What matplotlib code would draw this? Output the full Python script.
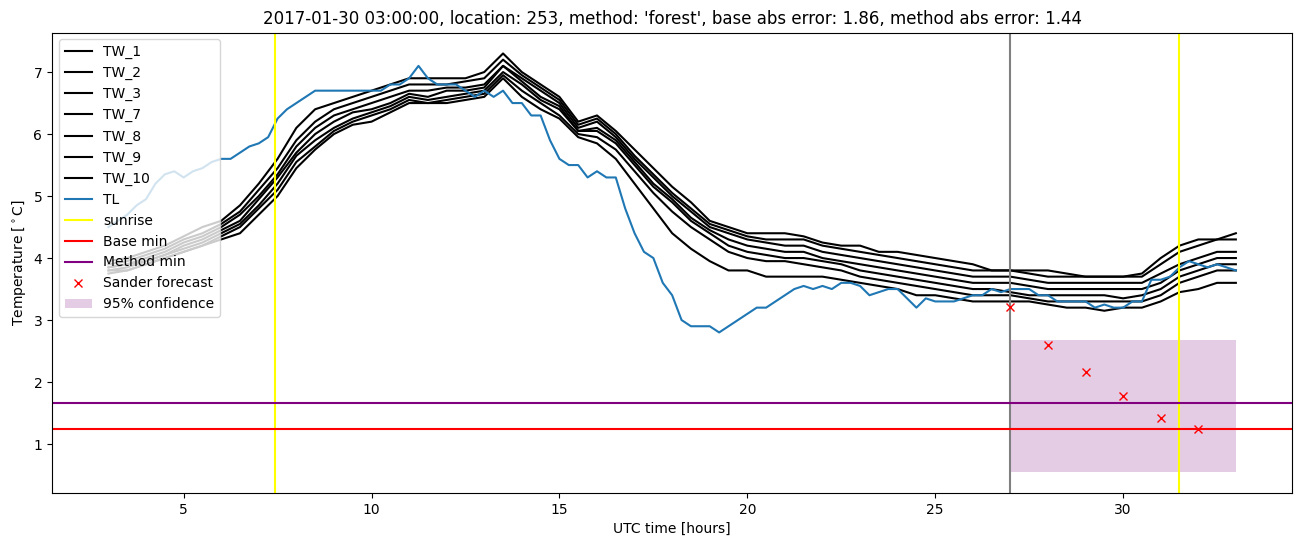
import matplotlib
matplotlib.use('Agg')
import matplotlib.pyplot as plt
import numpy as np

# time axis, half-hour steps (UTC hours)
t = np.arange(3.0, 33.01, 0.5)

tw_1 = [3.95, 4.0, 4.1, 4.2, 4.35, 4.5, 4.6, 4.85, 5.2, 5.6, 6.1, 6.4, 6.5, 6.6, 6.7, 6.8,
        6.9, 6.9, 6.9, 6.9, 7.0, 7.3, 7.0, 6.8, 6.6, 6.2, 6.3, 6.05, 5.75, 5.45, 5.15, 4.9,
        4.6, 4.5, 4.4, 4.4, 4.4, 4.35, 4.25, 4.2, 4.2, 4.1, 4.1, 4.05, 4.0, 3.95, 3.9, 3.8,
        3.8, 3.8, 3.8, 3.75, 3.7, 3.7, 3.7, 3.75, 4.0, 4.2, 4.3, 4.3, 4.4]
tw_2 = [3.9, 3.95, 4.05, 4.15, 4.3, 4.4, 4.55, 4.75, 5.1, 5.45, 5.9, 6.2, 6.4, 6.5, 6.6, 6.7,
        6.8, 6.8, 6.8, 6.85, 6.9, 7.2, 6.95, 6.75, 6.55, 6.15, 6.25, 6.0, 5.65, 5.35, 5.05, 4.8,
        4.55, 4.45, 4.35, 4.3, 4.3, 4.3, 4.2, 4.15, 4.1, 4.05, 4.0, 3.95, 3.9, 3.85, 3.8, 3.8,
        3.8, 3.75, 3.7, 3.7, 3.7, 3.7, 3.7, 3.7, 3.9, 4.1, 4.2, 4.3, 4.3]
tw_3 = [3.85, 3.9, 4.0, 4.1, 4.25, 4.35, 4.5, 4.7, 5.0, 5.35, 5.8, 6.1, 6.3, 6.4, 6.5, 6.6,
        6.7, 6.7, 6.75, 6.75, 6.8, 7.1, 6.9, 6.7, 6.5, 6.1, 6.2, 5.95, 5.6, 5.3, 5.0, 4.75,
        4.5, 4.4, 4.3, 4.25, 4.2, 4.2, 4.1, 4.05, 4.0, 3.95, 3.9, 3.85, 3.8, 3.75, 3.7, 3.7,
        3.7, 3.65, 3.6, 3.6, 3.6, 3.6, 3.6, 3.6, 3.75, 3.9, 4.0, 4.1, 4.1]
tw_7 = [3.85, 3.9, 3.95, 4.05, 4.2, 4.3, 4.45, 4.6, 4.95, 5.3, 5.7, 6.0, 6.2, 6.35, 6.4, 6.5,
        6.65, 6.6, 6.7, 6.7, 6.75, 7.1, 6.85, 6.6, 6.45, 6.05, 6.1, 5.9, 5.55, 5.2, 4.95, 4.65,
        4.45, 4.3, 4.2, 4.15, 4.1, 4.1, 4.0, 3.95, 3.9, 3.85, 3.8, 3.75, 3.7, 3.65, 3.6, 3.6,
        3.6, 3.55, 3.5, 3.5, 3.5, 3.5, 3.5, 3.5, 3.6, 3.8, 3.9, 4.0, 4.0]
tw_8 = [3.8, 3.85, 3.95, 4.05, 4.15, 4.25, 4.4, 4.55, 4.85, 5.2, 5.65, 5.9, 6.1, 6.25, 6.35, 6.45,
        6.6, 6.55, 6.6, 6.65, 6.7, 7.0, 6.8, 6.55, 6.4, 6.05, 6.05, 5.85, 5.5, 5.15, 4.9, 4.6,
        4.4, 4.2, 4.1, 4.05, 4.0, 4.0, 3.95, 3.9, 3.8, 3.75, 3.7, 3.65, 3.6, 3.55, 3.5, 3.5,
        3.45, 3.4, 3.4, 3.4, 3.4, 3.4, 3.35, 3.4, 3.5, 3.7, 3.8, 3.9, 3.9]
tw_9 = [3.8, 3.8, 3.9, 4.0, 4.1, 4.2, 4.35, 4.5, 4.8, 5.1, 5.55, 5.8, 6.05, 6.2, 6.3, 6.4,
        6.55, 6.5, 6.55, 6.6, 6.65, 6.95, 6.7, 6.5, 6.3, 6.0, 5.95, 5.75, 5.4, 5.05, 4.75, 4.5,
        4.3, 4.1, 4.0, 3.95, 3.95, 3.9, 3.85, 3.8, 3.7, 3.65, 3.6, 3.55, 3.5, 3.45, 3.4, 3.4,
        3.4, 3.35, 3.3, 3.3, 3.3, 3.3, 3.3, 3.3, 3.4, 3.6, 3.7, 3.8, 3.8]
tw_10 = [3.75, 3.8, 3.9, 4.0, 4.1, 4.2, 4.3, 4.4, 4.7, 5.0, 5.45, 5.75, 6.0, 6.15, 6.2, 6.35,
         6.5, 6.5, 6.5, 6.55, 6.6, 6.9, 6.6, 6.4, 6.25, 5.95, 5.85, 5.6, 5.2, 4.8, 4.4, 4.15,
         3.95, 3.8, 3.8, 3.7, 3.7, 3.7, 3.7, 3.65, 3.6, 3.55, 3.5, 3.4, 3.4, 3.35, 3.3, 3.3,
         3.3, 3.3, 3.25, 3.2, 3.2, 3.15, 3.2, 3.2, 3.3, 3.45, 3.5, 3.6, 3.6]
tw_names = ['TW_1', 'TW_2', 'TW_3', 'TW_7', 'TW_8', 'TW_9', 'TW_10']
tw_all = [tw_1, tw_2, tw_3, tw_7, tw_8, tw_9, tw_10]

# TL, quarter-hour steps
t_tl = np.arange(3.0, 33.01, 0.25)
tl = [4.5, 4.6, 4.7, 4.85, 4.95, 5.2, 5.35, 5.4, 5.3, 5.4, 5.45, 5.55, 5.6, 5.6, 5.7, 5.8,
      5.85, 5.95, 6.25, 6.4, 6.5, 6.6, 6.7, 6.7, 6.7, 6.7, 6.7, 6.7, 6.7, 6.7, 6.8, 6.8,
      6.9, 7.1, 6.9, 6.8, 6.8, 6.8, 6.7, 6.6, 6.7, 6.6, 6.7, 6.5, 6.5, 6.3, 6.3, 5.9,
      5.6, 5.5, 5.5, 5.3, 5.4, 5.3, 5.3, 4.8, 4.4, 4.1, 4.0, 3.6, 3.4, 3.0, 2.9, 2.9,
      2.9, 2.8, 2.9, 3.0, 3.1, 3.2, 3.2, 3.3, 3.4, 3.5, 3.55, 3.5, 3.55, 3.5, 3.6, 3.6,
      3.55, 3.4, 3.45, 3.5, 3.5, 3.35, 3.2, 3.35, 3.3, 3.3, 3.3, 3.35, 3.4, 3.4, 3.5, 3.45,
      3.5, 3.5, 3.5, 3.4, 3.4, 3.3, 3.3, 3.3, 3.3, 3.2, 3.25, 3.2, 3.2, 3.3, 3.3, 3.65,
      3.65, 3.7, 3.85, 3.95, 3.9, 3.85, 3.9, 3.85, 3.8]

sunrise = [7.42, 31.49]
now_time = 27
base_min = 1.24
method_min = 1.66
sander_t = [27, 28, 29, 30, 31, 32]
sander_y = [3.21, 2.6, 2.16, 1.77, 1.42, 1.24]
conf_t = [27, 33]
conf_lo = 0.55
conf_hi = 2.68

fig = plt.figure(figsize=(13.02, 5.47), dpi=100)
ax = fig.add_subplot(111)
fig.subplots_adjust(left=0.040, right=0.9925, bottom=0.099, top=0.9405)

for name, vals in zip(tw_names, tw_all):
    ax.plot(t, vals, color='black', label=name)
ax.plot(t_tl, tl, label='TL')
ax.axvline(sunrise[0], color='yellow', label='sunrise')
ax.axvline(sunrise[1], color='yellow')
ax.axvline(now_time, color='grey')
ax.axhline(base_min, color='red', label='Base min')
ax.axhline(method_min, color='purple', label='Method min')
ax.plot(sander_t, sander_y, 'x', color='red', label='Sander forecast')
ax.fill_between(conf_t, conf_lo, conf_hi, color='purple', alpha=0.2, linewidth=0,
                label='95% confidence')

ax.set_xlabel('UTC time [hours]')
ax.set_ylabel(r'Temperature [$^\circ$C]')
ax.set_title("2017-01-30 03:00:00, location: 253, method: 'forest', "
             "base abs error: 1.86, method abs error: 1.44")
ax.legend(loc='upper left')
plt.savefig('out.png')
